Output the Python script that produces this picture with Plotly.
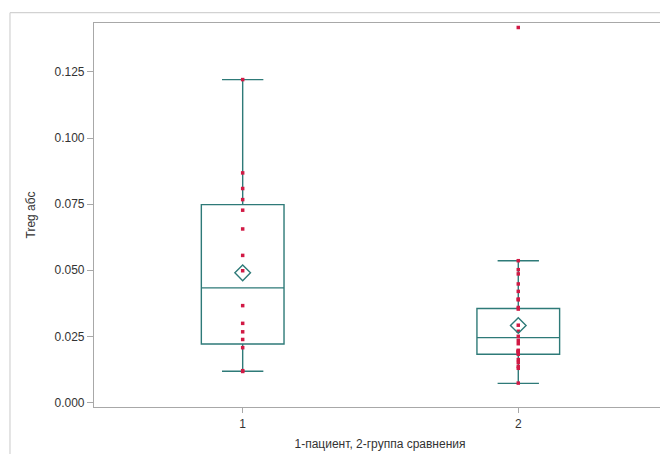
import plotly.graph_objects as go

# ---- data ----
groups = [1, 2]
tick_labels = ["1", "2"]

# box statistics (as drawn)
q1_vals = [0.0221, 0.0182]
median_vals = [0.0433, 0.0245]
q3_vals = [0.0748, 0.0355]
lower_whisker = [0.0118, 0.0072]
upper_whisker = [0.1221, 0.0536]
mean_vals = [0.0490, 0.0291]

# individual observations
group1_values = [0.1221, 0.0868, 0.0809, 0.0767, 0.0727, 0.0656, 0.0556, 0.0498,
                 0.0366, 0.0299, 0.0267, 0.0238, 0.0207, 0.0120, 0.0117]
group2_values = [0.1418, 0.0536, 0.0502, 0.0486, 0.0448, 0.0420, 0.0391, 0.0388,
                 0.0359, 0.0353, 0.0292, 0.0269, 0.0250, 0.0235, 0.0222, 0.0197,
                 0.0194, 0.0192, 0.0190, 0.0182, 0.0162, 0.0151, 0.0136, 0.0129,
                 0.0073]

y_ticks = [0.0, 0.025, 0.05, 0.075, 0.1, 0.125]
y_tick_text = ["0.000", "0.025", "0.050", "0.075", "0.100", "0.125"]

x_title = "1-пациент, 2-группа сравнения"
y_title = "Treg абс"

# ---- styles ----
BOX_COLOR = "#2e7a78"
DOT_COLOR = "#d11a45"
AXIS_COLOR = "#a8a8a8"
FONT = "Liberation Sans, Arial, sans-serif"

fig = go.Figure()

fig.add_trace(go.Box(
    x=groups,
    q1=q1_vals, median=median_vals, q3=q3_vals,
    lowerfence=lower_whisker, upperfence=upper_whisker,
    boxpoints=False,
    width=0.3,
    whiskerwidth=0.5,
    fillcolor="rgba(0,0,0,0)",
    line=dict(color=BOX_COLOR, width=1.4),
    showlegend=False,
    hoverinfo="skip",
))

all_x = [groups[0]] * len(group1_values) + [groups[1]] * len(group2_values)
all_y = group1_values + group2_values
fig.add_trace(go.Scatter(
    x=all_x, y=all_y, mode="markers",
    marker=dict(symbol="square", size=3.5, color=DOT_COLOR, line=dict(width=0)),
    showlegend=False, hoverinfo="skip",
))

fig.add_trace(go.Scatter(
    x=groups, y=mean_vals, mode="markers",
    marker=dict(symbol="diamond-open", size=12, color=BOX_COLOR, line=dict(width=1.4, color=BOX_COLOR)),
    showlegend=False, hoverinfo="skip",
))

# outer frame lines (like the original image border)
fig.add_shape(type="line", xref="paper", yref="paper", x0=-0.1469, x1=1.02, y0=1.0268, y1=1.0268,
              line=dict(color="#d2d2d2", width=1.2))
fig.add_shape(type="line", xref="paper", yref="paper", x0=-0.1469, x1=-0.1469, y0=1.0268, y1=-0.13,
              line=dict(color="#d2d2d2", width=1.2))

# page body has an 8px margin: figure sized to fill the rest of the window
fig.update_layout(
    width=660, height=446,
    margin=dict(l=86, r=2, t=15, b=47, autoexpand=False),
    paper_bgcolor="white", plot_bgcolor="white",
    font=dict(family=FONT, size=12, color="#333333"),
    showlegend=False,
)
fig.update_xaxes(
    range=[0.4605, 2.536],
    tickvals=groups, ticktext=tick_labels,
    ticks="outside", ticklen=5, tickcolor=AXIS_COLOR,
    showline=True, linecolor=AXIS_COLOR, linewidth=1.2, mirror=True,
    showgrid=False, zeroline=False,
    tickfont=dict(size=12, color="#333333"),
    title=dict(text=x_title, font=dict(size=12, color="#333333"), standoff=10),
)
fig.update_yaxes(
    range=[-0.00174, 0.1435],
    tickvals=y_ticks, ticktext=y_tick_text,
    ticks="outside", ticklen=6, tickcolor=AXIS_COLOR,
    showline=True, linecolor=AXIS_COLOR, linewidth=1.2, mirror=True,
    showgrid=False, zeroline=False,
    tickfont=dict(size=12, color="#333333"),
    title=dict(text=y_title, font=dict(size=12, color="#333333"), standoff=16),
)

fig.write_html("out.html")
